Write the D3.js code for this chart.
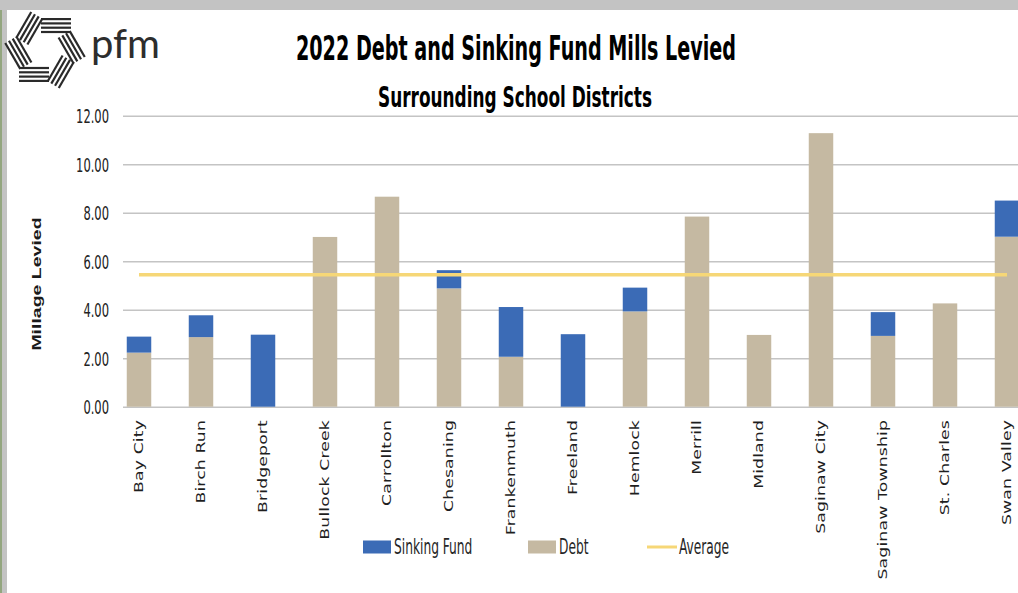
<!DOCTYPE html>
<html>
<head>
<meta charset="utf-8">
<script src="https://cdn.jsdelivr.net/npm/d3@7/dist/d3.min.js"></script>
<style>
    body { margin: 0; background: #ffffff; }
    .narrow { font-family: "Liberation Sans Narrow", "DejaVu Sans Condensed", "Roboto", sans-serif; }
</style>
</head>
<body>
<div id="chart"></div>
<script>
// values (mills)
var districts = ["Bay City", "Birch Run", "Bridgeport", "Bullock Creek", "Carrollton", "Chesaning",
    "Frankenmuth", "Freeland", "Hemlock", "Merrill", "Midland", "Saginaw City",
    "Saginaw Township", "St. Charles", "Swan Valley"];
var debt        = [2.23, 2.87, 0.00, 7.00, 8.66, 4.88, 2.06, 0.00, 3.93, 7.84, 2.96, 11.28, 2.92, 4.26, 7.01];
var sinkingFund = [0.66, 0.90, 2.97, 0.00, 0.00, 0.75, 2.05, 2.99, 0.98, 0.00, 0.00, 0.00, 0.98, 0.00, 1.49];
var averageMills = 5.44;
var yTicks = [0, 2, 4, 6, 8, 10, 12];
var legendItems = ["Sinking Fund", "Debt", "Average"];

var CHART = {

    selector: '#chart',

    options: {
        width: 1018,
        height: 593,
        plot: { left: 123, top: 115.7, bottom: 406.7 },
        colors: { sinkingFund: "#3b6bb6", debt: "#c5b9a2", average: "#f6d777", grid: "#c4c4c4" }
    },

    init: function(){
        var el = d3.select(this.selector);
        if(el.empty()){
            console.warn('init(): Element for "'+this.selector+'" selector not found');
            return;
        }
        this.draw();
    },

    // the screenshot is squashed sideways, so text is drawn taller than wide
    tall: function(k){ return "scale(1," + k + ")"; },

    draw: function(){
        var self = this;
        var o = this.options;
        var rows = districts.map(function(name, i){
            return { name: name, debt: debt[i], sinkingFund: sinkingFund[i] };
        });

        var svg = d3.select(this.selector).append("svg")
            .attr("width", o.width)
            .attr("height", o.height);

        svg.append("rect").attr("width", o.width).attr("height", o.height).attr("fill", "#ffffff");

        // screenshot frame
        svg.append("rect").attr("x", 0).attr("y", 0).attr("width", o.width).attr("height", 10).attr("fill", "#c3c3c3");
        svg.append("rect").attr("x", 0).attr("y", 0).attr("width", 7).attr("height", o.height).attr("fill", "#c3c3c3");
        svg.append("line").attr("x1", 1).attr("x2", 1).attr("y1", 10).attr("y2", o.height)
            .attr("stroke", "#93a67f").attr("stroke-width", 2);

        this.drawLogo(svg);

        var xScale = d3.scaleBand()
            .domain(districts)
            .range([108, 1038])
            .paddingInner(0.605)
            .paddingOuter(0.3025);
        var yScale = d3.scaleLinear().domain([0, 12]).range([o.plot.bottom, o.plot.top]);

        // grid + tick labels
        var yAxis = svg.append("g")
            .attr("class", "axis y narrow")
            .attr("transform", "translate(" + o.plot.left + ",0)")
            .call(d3.axisLeft(yScale).tickValues(yTicks).tickFormat(d3.format(".2f"))
                .tickSize(-(o.width - o.plot.left)).tickPadding(14));
        yAxis.select(".domain").remove();
        yAxis.selectAll(".tick line").attr("stroke", o.colors.grid).attr("stroke-width", 1.4);
        yAxis.selectAll(".tick text")
            .attr("fill", "#222222")
            .attr("font-size", 12.8)
            .attr("font-family", null)
            .attr("dy", null)
            .attr("transform", "translate(0,7) " + self.tall(1.5));

        // stacked bars
        var stack = d3.stack().keys(["debt", "sinkingFund"]);
        var series = stack(rows);
        svg.append("g").attr("class", "bars")
            .selectAll("g")
            .data(series)
            .enter().append("g")
            .attr("fill", function(d){ return o.colors[d.key]; })
            .selectAll("rect")
            .data(function(d){ return d; })
            .enter().append("rect")
            .attr("x", function(d){ return xScale(d.data.name); })
            .attr("width", xScale.bandwidth())
            .attr("y", function(d){ return yScale(d[1]); })
            .attr("height", function(d){ return yScale(d[0]) - yScale(d[1]); });

        // average line, first to last category
        var avgLine = d3.line()
            .x(function(d){ return xScale(d) + xScale.bandwidth() / 2; })
            .y(function(){ return yScale(averageMills); });
        svg.append("path")
            .datum([districts[0], districts[districts.length - 1]])
            .attr("d", avgLine)
            .attr("fill", "none")
            .attr("stroke", o.colors.average)
            .attr("stroke-width", 3.5);

        // category labels, rotated
        svg.append("g").attr("class", "x-labels")
            .selectAll("text")
            .data(districts)
            .enter().append("text")
            .attr("transform", function(d){
                return "translate(" + (xScale(d) + xScale.bandwidth() / 2) + ",420) rotate(-90) scale(1.35,1)";
            })
            .attr("text-anchor", "end")
            .attr("dy", "0.35em")
            .attr("font-family", "DejaVu Sans, Verdana, sans-serif")
            .attr("font-size", 12.8)
            .attr("letter-spacing", 0.1)
            .attr("fill", "#1e1e1e")
            .text(function(d){ return d; });

        // axis title
        svg.append("text")
            .attr("transform", "translate(36,284) rotate(-90) scale(1.5,1)")
            .attr("text-anchor", "middle")
            .attr("dy", "0.35em")
            .attr("font-family", "Liberation Sans, Arial, sans-serif")
            .attr("font-weight", "bold")
            .attr("font-size", 13)
            .attr("fill", "#1a1a1a")
            .text("Millage Levied");

        // titles
        svg.append("text").attr("class", "narrow")
            .attr("transform", "translate(516,60) " + self.tall(1.6))
            .attr("text-anchor", "middle")
            .attr("font-weight", "bold")
            .attr("font-size", 21.3)
            .attr("fill", "#000000")
            .text("2022 Debt and Sinking Fund Mills Levied");
        svg.append("text").attr("class", "narrow")
            .attr("transform", "translate(515,107) " + self.tall(1.55))
            .attr("text-anchor", "middle")
            .attr("font-weight", "bold")
            .attr("font-size", 18.8)
            .attr("fill", "#000000")
            .text("Surrounding School Districts");

        this.drawLegend(svg);
    },

    drawLegend: function(svg){
        var self = this;
        var o = this.options;
        var pos = [363, 528, 647];
        var g = svg.append("g").attr("class", "legend narrow");
        var item = g.selectAll("g")
            .data(legendItems)
            .enter().append("g")
            .attr("transform", function(d, i){ return "translate(" + pos[i] + ",547)"; });

        item.filter(function(d){ return d !== "Average"; })
            .append("rect")
            .attr("x", 0).attr("y", -6.5)
            .attr("width", 28).attr("height", 13)
            .attr("fill", function(d){ return d === "Debt" ? o.colors.debt : o.colors.sinkingFund; });
        item.filter(function(d){ return d === "Average"; })
            .append("line")
            .attr("x1", 0).attr("x2", 30)
            .attr("stroke", o.colors.average).attr("stroke-width", 3);

        item.append("text")
            .attr("transform", function(d){ return "translate(" + (d === "Average" ? 32 : 31) + ",7) " + self.tall(1.6); })
            .attr("font-size", 13.6)
            .attr("fill", "#262626")
            .text(function(d){ return d; });
    },

    drawLogo: function(svg){
        var cx = 45, cy = 50;
        var g = svg.append("g").attr("class", "logo");
        for (var k = 0; k < 6; k++) {
            var a = k * Math.PI / 3 - Math.PI / 2;
            var nx = Math.cos(a), ny = Math.sin(a), tx = -ny, ty = nx;
            for (var j = 0; j < 4; j++) {
                var r = 18 + j * 4.3;
                g.append("line")
                    .attr("x1", cx + r * nx - 4 * tx).attr("y1", cy + r * ny - 4 * ty)
                    .attr("x2", cx + r * nx + 26 * tx).attr("y2", cy + r * ny + 26 * ty)
                    .attr("stroke", "#2a2a2a").attr("stroke-width", 2.2);
            }
        }
        svg.append("text")
            .attr("x", 91).attr("y", 58)
            .attr("font-family", "Lato, Open Sans, sans-serif")
            .attr("font-size", 40)
            .attr("fill", "#2d2d2d")
            .text("pfm");
    },
};

CHART.init();
</script>
</body>
</html>
